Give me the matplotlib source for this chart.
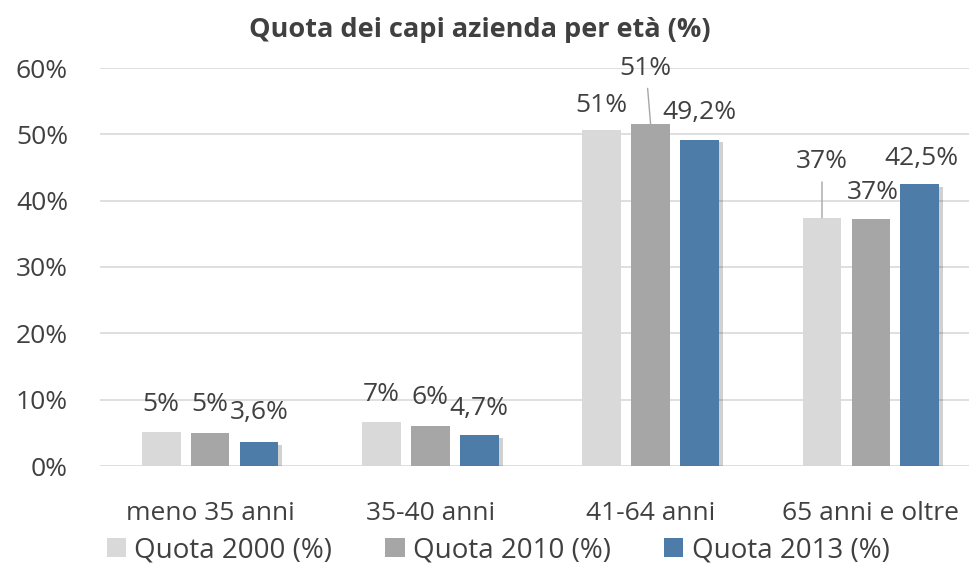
import matplotlib
matplotlib.use("Agg")
import matplotlib.pyplot as plt
import matplotlib.patheffects as pe
from matplotlib.patches import Patch
import numpy as np

categories = ["meno 35 anni", "35-40 anni", "41-64 anni", "65 anni e oltre"]
series_names = ["Quota 2000 (%)", "Quota 2010 (%)", "Quota 2013 (%)"]
quota_2000 = [5.2, 6.7, 50.6, 37.4]
quota_2010 = [5.0, 6.1, 51.5, 37.2]
quota_2013 = [3.6, 4.7, 49.2, 42.5]
labels_2000 = ["5%", "7%", "51%", "37%"]
labels_2010 = ["5%", "6%", "51%", "37%"]
labels_2013 = ["3,6%", "4,7%", "49,2%", "42,5%"]
yticks = [0, 10, 20, 30, 40, 50, 60]
ytick_labels = ["0%", "10%", "20%", "30%", "40%", "50%", "60%"]
title = "Quota dei capi azienda per età (%)"

colors = ["#d9d9d9", "#a6a6a6", "#4e7ca8"]
text_color = "#404040"
plt.rcParams["font.family"] = ["Open Sans", "DejaVu Sans"]

W, H = 969, 567
fig = plt.figure(figsize=(W / 100, H / 100), dpi=100)
ax = fig.add_axes([100 / W, 1 - 466 / H, 881 / W, (466 - 68) / H])

x = np.arange(len(categories))
width = 0.175
step = 0.222
all_vals = [quota_2000, quota_2010, quota_2013]
all_labels = [labels_2000, labels_2010, labels_2013]
# label offsets in pixels (dx, dy) for text center relative to bar top
offsets = [
    [(0, 27), (0, 27), (0, 25), (0, 56)],
    [(0, 28), (0, 28), (-5, 56), (2, 27)],
    [(0, 30), (0, 26), (0, 27), (2, 26)],
]
leaders = {(1, 2), (0, 3)}

for i, (vals, labs) in enumerate(zip(all_vals, all_labels)):
    pos = x + (i - 1) * step
    bars = ax.bar(pos, vals, width, color=colors[i], zorder=3)
    if i == 2:
        for b in bars:
            b.set_path_effects([pe.SimplePatchShadow(offset=(3, -2), alpha=0.18, shadow_rgbFace="#000000"), pe.Normal()])
    for j, (p, v, l) in enumerate(zip(pos, vals, labs)):
        dx, dy = offsets[i][j]
        ax.annotate(l, (p, v), xytext=(dx, dy), textcoords="offset pixels",
                    ha="center", va="center", fontsize=19, color=text_color, zorder=5)
        if (i, j) in leaders:
            ax.annotate("", (p, v), xytext=(dx * 0.6, dy - 20), textcoords="offset pixels",
                        arrowprops=dict(arrowstyle="-", color="#a6a6a6", lw=1, shrinkA=0, shrinkB=0),
                        zorder=4)

ax.set_xlim(-0.5, 3.5)
ax.set_ylim(0, 60)
ax.set_yticks(yticks)
ax.set_yticklabels(ytick_labels)
ax.set_xticks(x)
ax.set_xticklabels(categories)
ax.tick_params(axis="both", length=0, labelsize=19, labelcolor=text_color)
ax.tick_params(axis="y", pad=23)
ax.tick_params(axis="x", pad=25)
ax.grid(axis="y", color="#d9d9d9", linewidth=1.2, zorder=0)
ax.set_axisbelow(True)
for s in ax.spines.values():
    s.set_visible(False)

fig.text(480 / W, 1 - 30 / H, title, ha="center", va="center", fontsize=19.5,
         fontweight="bold", color=text_color)

handles = [Patch(facecolor=c, edgecolor="none") for c in colors]
fig.legend(handles, series_names, loc="center", bbox_to_anchor=(498 / W, 1 - 550 / H), ncol=3,
           frameon=False, fontsize=20, labelcolor=text_color, handlelength=0.7, handleheight=0.7,
           handletextpad=0.3, columnspacing=1.9, borderpad=0)

fig.savefig("out.png", dpi=100)
